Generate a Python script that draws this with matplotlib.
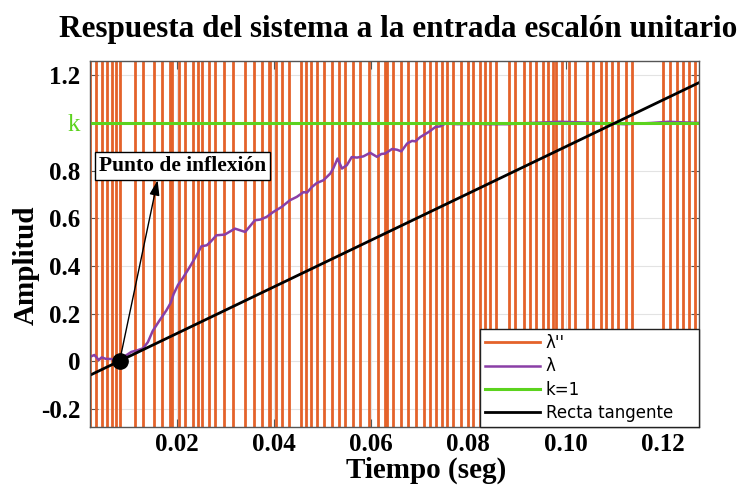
import numpy as np
import matplotlib
matplotlib.use('Agg')
from matplotlib import pyplot as plt

# Datos leidos de la figura
# tiempos donde la segunda derivada (lambda'') se dispara
t_spikes = [0.0023, 0.0034, 0.0046, 0.0057, 0.0068, 0.0075, 0.0083, 0.0115, 0.0131,
            0.0154, 0.0169, 0.0186, 0.0191, 0.0205, 0.0218, 0.0234, 0.0245, 0.0252,
            0.0266, 0.0278, 0.0298, 0.0317, 0.0341, 0.0359, 0.0376, 0.0389, 0.0393,
            0.0404, 0.0416, 0.0432, 0.0455, 0.0466, 0.0476, 0.0488, 0.0504, 0.0520,
            0.0533, 0.0547, 0.0563, 0.0578, 0.0596, 0.0615, 0.0628, 0.0632, 0.0644,
            0.0661, 0.0676, 0.0693, 0.0708, 0.0720, 0.0733, 0.0746, 0.0755, 0.0768,
            0.0785, 0.0800, 0.0810, 0.0823, 0.0834, 0.0845, 0.0856, 0.0883, 0.0896,
            0.0914, 0.0926, 0.0938, 0.0953, 0.0963, 0.0974, 0.0980, 0.0993, 0.1007,
            0.1020, 0.1044, 0.1057, 0.1072, 0.1083, 0.1096, 0.1107, 0.1123, 0.1137,
            0.1200, 0.1214, 0.1228, 0.1241, 0.1254, 0.1266]

# respuesta al escalon (lambda)
t_resp = [0.0022, 0.0031, 0.0040, 0.0046, 0.0054, 0.0066, 0.0083, 0.0093, 0.0107,
          0.0120, 0.0131, 0.0141, 0.0151, 0.0165, 0.0179, 0.0188, 0.0194, 0.0203,
          0.0212, 0.0227, 0.0241, 0.0251, 0.0262, 0.0270, 0.0282, 0.0299, 0.0320,
          0.0341, 0.0361, 0.0372, 0.0385, 0.0399, 0.0416, 0.0433, 0.0447, 0.0461,
          0.0468, 0.0478, 0.0488, 0.0502, 0.0516, 0.0522, 0.0531, 0.0540, 0.0550,
          0.0560, 0.0571, 0.0584, 0.0598, 0.0612, 0.0621, 0.0629, 0.0643, 0.0653,
          0.0662, 0.0674, 0.0684, 0.0691, 0.0701, 0.0718, 0.0732, 0.0742, 0.0753,
          0.0777, 0.0818, 0.0838, 0.0880, 0.0928, 0.0989, 0.1072, 0.1120, 0.1175,
          0.1211, 0.1276]
y_resp = [0.019, 0.027, 0.006, 0.017, 0.011, 0.010, 0.005, 0.021, 0.040,
          0.047, 0.055, 0.081, 0.128, 0.172, 0.214, 0.246, 0.283, 0.321,
          0.347, 0.396, 0.445, 0.483, 0.487, 0.502, 0.529, 0.532, 0.557,
          0.543, 0.592, 0.595, 0.606, 0.627, 0.648, 0.676, 0.690, 0.710,
          0.708, 0.731, 0.748, 0.760, 0.788, 0.809, 0.851, 0.809, 0.823,
          0.857, 0.855, 0.860, 0.875, 0.858, 0.870, 0.872, 0.891, 0.888,
          0.881, 0.914, 0.925, 0.923, 0.941, 0.962, 0.983, 0.986, 0.998,
          0.995, 0.997, 0.995, 0.995, 1.000, 1.005, 1.000, 0.995, 1.000,
          1.005, 1.000]

k = 1.0
t_inf, y_inf = 0.0083, 0.002   # punto de inflexion
pendiente = 9.8                # pendiente de la recta tangente

x_ticks = [0.02, 0.04, 0.06, 0.08, 0.10, 0.12]
x_labels = ['0.02', '0.04', '0.06', '0.08', '0.10', '0.12']
y_ticks = [-0.2, 0, 0.2, 0.4, 0.6, 0.8, 1.0, 1.2]
y_labels = ['-0.2', '0', '0.2', '0.4', '0.6', '0.8', 'k', '1.2']

c_naranja = '#E4622A'
c_morado = '#8A3FA6'
c_verde = '#5CD31E'

serif = 'Liberation Serif'
xlim = (0.0022, 0.1274)
ylim = (-0.275, 1.26)

fig = plt.figure(figsize=(7.42, 4.92), dpi=100)
ax = fig.add_axes([90/742, 65/492, 609/742, 366/492])

# lambda'' -> sube y baja en cada pico, fuera de los limites
big = 50.0
xs, ys = [], []
for i, t in enumerate(t_spikes):
    s = 1 if i % 2 == 0 else -1
    xs += [t, t]
    ys += [-s*big, s*big]
ax.plot(xs, ys, color=c_naranja, lw=2.0, label="λ''")

ax.plot(t_resp, y_resp, color=c_morado, lw=1.8, label='λ')
ax.plot(xlim, [k, k], color=c_verde, lw=2.2, label='k=1')
t_line = np.array(xlim)
# espacios al final para ensanchar la leyenda como en el original
ax.plot(t_line, y_inf + pendiente*(t_line - t_inf), color='black', lw=2.0,
        label='Recta tangente    ')
ax.plot([t_inf], [y_inf], 'o', color='black', ms=11, zorder=5)

# anotacion
ax.annotate('', xy=(0.0161, 0.76), xytext=(t_inf, y_inf),
            arrowprops=dict(arrowstyle='-|>,head_length=0.9,head_width=0.3',
                            color='black', lw=1.0, shrinkA=0, shrinkB=0))
ax.text(0.0212, 0.821, 'Punto de inflexión', ha='center', va='center',
        family=serif, weight='bold', fontsize=15.5,
        bbox=dict(boxstyle='square,pad=0.18', fc='white', ec='black', lw=1.0))

ax.set_xlim(xlim)
ax.set_ylim(ylim)
ax.set_xticks(x_ticks)
ax.set_xticklabels(x_labels)
ax.set_yticks(y_ticks)
ax.set_yticklabels(y_labels)
for lab in ax.get_xticklabels() + ax.get_yticklabels():
    lab.set_family(serif)
    lab.set_fontweight('bold')
    lab.set_fontsize(18)
klab = ax.get_yticklabels()[6]
klab.set_color(c_verde)
klab.set_fontweight('normal')

ax.tick_params(direction='in', length=6, width=0.8, color='#555555',
               top=True, right=True)
ax.tick_params(axis='x', pad=4)
ax.tick_params(axis='y', pad=7)
ax.grid(True, color='#e3e3e3', lw=0.8)
ax.set_axisbelow(True)
for sp in ax.spines.values():
    sp.set_color('#555555')
    sp.set_linewidth(1.0)
    sp.set_zorder(10)

leg = ax.legend(loc='lower right', borderaxespad=0, fancybox=False,
                framealpha=1, edgecolor='#222222', fontsize=12,
                handlelength=3.3, handletextpad=0.35, labelspacing=0.32,
                borderpad=0.3)
leg.get_frame().set_linewidth(1.0)
leg.set_zorder(20)

fig.text(398/742, 1 - 29/492, 'Respuesta del sistema a la entrada escalón unitario',
         ha='center', va='center', family=serif, weight='bold', fontsize=22.5)
fig.text(426/742, 1 - 470/492, 'Tiempo (seg)', ha='center', va='center',
         family=serif, weight='bold', fontsize=21)
fig.text(26/742, 1 - 265/492, 'Amplitud', ha='center', va='center', rotation=90,
         family=serif, weight='bold', fontsize=21)

fig.savefig('out.png', dpi=100)
